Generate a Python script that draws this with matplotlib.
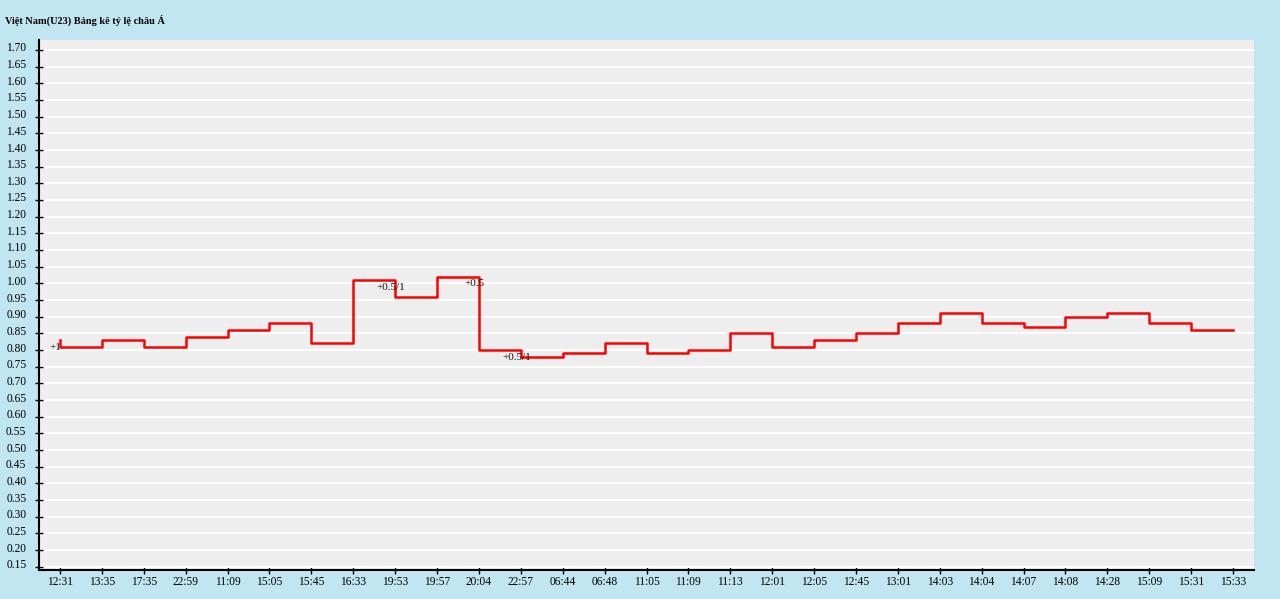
import numpy as np
import matplotlib
matplotlib.use('Agg')
import matplotlib.pyplot as plt
import matplotlib.transforms as mtransforms

# --data
times = ['12:31', '13:35', '17:35', '22:59', '11:09', '15:05', '15:45', '16:33',
         '19:53', '19:57', '20:04', '22:57', '06:44', '06:48', '11:05', '11:09',
         '11:13', '12:01', '12:05', '12:45', '13:01', '14:03', '14:04', '14:07',
         '14:08', '14:28', '15:09', '15:31', '15:33']
odds = [0.81, 0.83, 0.81, 0.84, 0.86, 0.88, 0.82, 1.01, 0.96, 1.02, 0.80, 0.78,
        0.79, 0.82, 0.79, 0.80, 0.85, 0.81, 0.83, 0.85, 0.88, 0.91, 0.88, 0.87,
        0.90, 0.91, 0.88, 0.86, 0.86]
start_odds = 0.83
handicap_idx = [0, 8, 10, 11]
handicap_txt = ['+1', '+0.5/1', '+0.5', '+0.5/1']
handicap_y = [0.808, 0.989, 0.999, 0.778]

BG = '#c1e6f1'
FONT = ['Liberation Serif', 'DejaVu Serif']

plt.rcParams['font.family'] = FONT

fig = plt.figure(figsize=(12.8, 5.99), dpi=100, facecolor=BG)
ax = fig.add_axes([39/1280, 1 - 570/599, (1254 - 39)/1280, (570 - 40)/599])
ax.set_facecolor('#eeeeee')

xs = np.arange(len(times))
ax.step(np.concatenate([[0], xs]), [start_odds] + odds, where='post',
        color='#ff0000', lw=1.8, zorder=3)

for i, t, y in zip(handicap_idx, handicap_txt, handicap_y):
    ax.text(i - 0.1, y, t, ha='center', va='center', fontsize=8, color='#111111', zorder=4)

ax.set_xlim(-0.5, len(times) - 0.5)
ax.set_ylim(0.14, 1.73)
ax.set_xticks(xs)
ax.set_xticklabels(times)
yt = np.round(np.arange(0.15, 1.701, 0.05), 2)
ax.set_yticks(yt)
ax.set_yticklabels(['%.2f' % v for v in yt])
ax.grid(axis='y', color='white', lw=1.5, zorder=1)
ax.set_axisbelow(True)

for s in ['top', 'right']:
    ax.spines[s].set_visible(False)
for s in ['left', 'bottom']:
    ax.spines[s].set_color('black')
    ax.spines[s].set_linewidth(1.5)
ax.tick_params(axis='both', direction='inout', length=6, width=1, labelsize=8.3, colors='black')
ax.tick_params(axis='y', pad=6)
ax.tick_params(axis='x', pad=1)

# y labels sit a little above their ticks in the original
shift = mtransforms.ScaledTranslation(0, 3/100, fig.dpi_scale_trans)
for lbl in ax.get_yticklabels():
    lbl.set_transform(lbl.get_transform() + shift)

fig.text(5/1280, 1 - 20/599, 'Việt Nam(U23) Bảng kê tỷ lệ châu Á', fontsize=7.4,
         fontweight='bold', ha='left', va='center')

fig.savefig('out.png', dpi=100, facecolor=BG)
